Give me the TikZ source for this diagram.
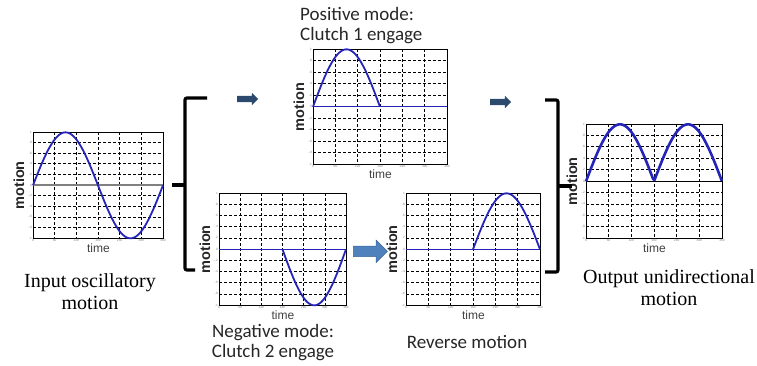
\documentclass[tikz,border=0pt]{standalone}
\usepackage{fontspec}
\setmainfont{Carlito}
\newfontfamily\capfont{Liberation Serif}
\newfontfamily\axfont{Liberation Sans}
\usetikzlibrary{positioning,calc,shapes.arrows}
\definecolor{curveblue}{HTML}{2424B8}
\definecolor{darkarrow}{HTML}{2C4A6E}
\definecolor{midarrow}{HTML}{4F81BD}
\definecolor{midedge}{HTML}{3A6699}

% frame with dashed grid and tick labels: name, left, top, width, height
\newcommand{\gridplot}[5]{%
  \node[plotbox, minimum width=#4pt, minimum height=#5pt, anchor=north west] (#1) at (#2,#3) {};
  \begin{scope}[shift={(#2,#3)}]
    \foreach \i in {1,...,5}
      \draw[gridline] (\i*#4/6,0) -- (\i*#4/6,#5);
    \foreach \j in {1,...,9}
      \draw[gridline] (0,\j*#5/10) -- (#4,\j*#5/10);
    \foreach \j/\v in {0/1,1/.8,2/.6,3/.4,4/.2,5/0,6/-.2,7/-.4,8/-.6,9/-.8,10/-1}
      \node[ticklab, anchor=east] at (-0.8,\j*#5/10) {\v};
    \foreach \i/\v in {0/0,1/60,2/120,3/180,4/240,5/300,6/360}
      \node[ticklab, anchor=north] at (\i*#4/6,#5+0.8) {\v};
  \end{scope}
  \node[ylab] (#1y) at ($(#1.west)+(-14,0)$) {motion};
  \node[xlab, below=5pt of #1.south] (#1t) {time};
}

\begin{document}
\begin{tikzpicture}[x=1pt, y=-1pt,
  plotbox/.style={draw, line width=0.7pt, inner sep=0pt},
  gridline/.style={line width=0.6pt, dash pattern=on 3pt off 2pt},
  ticklab/.style={font=\axfont\fontsize{3.2}{3.5}\selectfont, text=gray, inner sep=0pt},
  ylab/.style={font=\axfont\bfseries\fontsize{14.5}{15}\selectfont, text=black!85, rotate=90, inner sep=0pt},
  xlab/.style={font=\axfont\fontsize{12}{13}\selectfont, text=black!75, inner sep=0pt},
  curve/.style={curveblue, line width=1.8pt, line join=round},
  zeroline/.style={line width=1pt},
  modelab/.style={font=\fontsize{19}{20}\selectfont, text=black!85, inner sep=0pt},
  caption/.style={font=\capfont\fontsize{20}{22}\selectfont, text=black, align=center, inner sep=0pt},
  bracket/.style={line width=3.2pt, rounded corners=2pt},
  darkarr/.style={single arrow, fill=darkarrow, inner sep=3pt, minimum width=12pt,
    minimum height=21pt, single arrow head extend=3pt},
  midarr/.style={single arrow, fill=midarrow, draw=midedge, line width=0.6pt, inner sep=5pt,
    minimum width=22pt, minimum height=34pt, single arrow head extend=6pt}]
  \useasboundingbox (0,0) rectangle (757,366);

  % the five plots
  \gridplot{P1}{33}{132}{130}{106}
  \gridplot{P2}{313}{49}{134}{115}
  \gridplot{P3}{219}{193}{127}{112}
  \gridplot{P4}{406}{193}{134}{112}
  \gridplot{P5}{586}{124}{136}{114}

  % input oscillatory motion
  \begin{scope}[shift={(P1.west)}]
    \draw[zeroline, gray, line width=2.2pt] (0,0) -- (130,0);
    \draw[curve] plot[variable=\t, domain=0:1, samples=90] ({130*\t},{-53*sin(360*\t)});
  \end{scope}
  % positive half, clutch 1
  \begin{scope}[shift={(P2.west)}]
    \draw[zeroline, curveblue] (0,0) -- (134,0);
    \draw[curve] plot[variable=\t, domain=0:0.5, samples=50] ({134*\t},{-57.5*sin(360*\t)});
  \end{scope}
  % negative half, clutch 2
  \begin{scope}[shift={(P3.west)}]
    \draw[zeroline, curveblue] (0,0) -- (127,0);
    \draw[curve] plot[variable=\t, domain=0.5:1, samples=50] ({127*\t},{-56*sin(360*\t)});
  \end{scope}
  % reversed half
  \begin{scope}[shift={(P4.west)}]
    \draw[zeroline, curveblue] (0,0) -- (134,0);
    \draw[curve] plot[variable=\t, domain=0.5:1, samples=50] ({134*\t},{56*sin(360*\t)});
  \end{scope}
  % unidirectional output
  \begin{scope}[shift={(P5.west)}]
    \draw[zeroline, black] (0,0) -- (136,0);
    \draw[curve, line width=2.6pt] plot[variable=\t, domain=0:1, samples=100] ({136*\t},{-57*abs(sin(360*\t))});
  \end{scope}

  % brackets
  \draw[bracket] (207,98) -- (185,98) -- (185,270) -- (195,270);
  \draw[bracket] (172,185) -- (185,185);
  \draw[bracket] (545,100) -- (558,100) -- (558,272) -- (545,272);
  \draw[bracket] (558,186) -- (572,186);

  % block arrows
  \node[darkarr] (A1) at (246,99) {};
  \node[darkarr] (A2) at (499,102) {};
  \node[midarr] (A3) at ($(P3.east)+(21,2)$) {};

  % captions
  \node[caption] (inLab) at (90,292) {Input oscillatory\\motion};
  \node[caption] (outLab) at (669,288) {Output unidirectional\\motion};
  \node[modelab, align=left, anchor=west] (posLab) at (300,26) {Positive mode:\\Clutch 1 engage};
  \node[modelab, align=center] (negLab) at (273,343) {Negative mode:\\Clutch 2 engage};
  \node[modelab] (revLab) at (467,342) {Reverse motion};
\end{tikzpicture}
\end{document}
